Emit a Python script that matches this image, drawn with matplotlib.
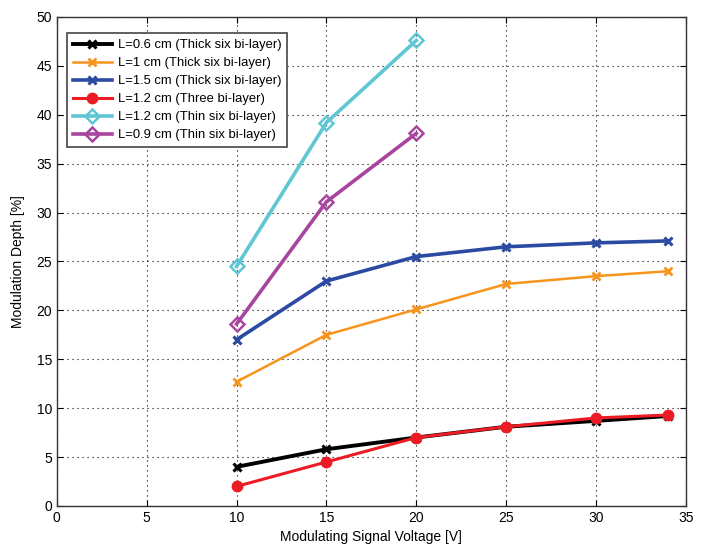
import matplotlib
matplotlib.use("Agg")
import matplotlib.pyplot as plt

plt.rcParams['font.family'] = ['Liberation Sans Narrow', 'Liberation Sans', 'DejaVu Sans']

voltage_full = [10, 15, 20, 25, 30, 34]
voltage_short = [10, 15, 20]

thick06 = [4.0, 5.8, 7.0, 8.1, 8.7, 9.2]
thick10 = [12.7, 17.5, 20.1, 22.7, 23.5, 24.0]
thick15 = [17.0, 23.0, 25.5, 26.5, 26.9, 27.1]
three12 = [2.0, 4.5, 7.0, 8.1, 9.0, 9.3]
thin12 = [24.5, 39.2, 47.6]
thin09 = [18.6, 31.1, 38.1]

labels = [
    "L=0.6 cm (Thick six bi-layer)",
    "L=1 cm (Thick six bi-layer)",
    "L=1.5 cm (Thick six bi-layer)",
    "L=1.2 cm (Three bi-layer)",
    "L=1.2 cm (Thin six bi-layer)",
    "L=0.9 cm (Thin six bi-layer)",
]

fig = plt.figure(figsize=(7.02, 5.47), dpi=100)
ax = fig.add_axes([0.081, 0.075, 0.896, 0.894])

ax.plot(voltage_full, thick06, color='black', lw=2.8, marker='x', ms=6, mew=2.2, label=labels[0])
ax.plot(voltage_full, thick10, color='#f7941d', lw=1.8, marker='x', ms=6, mew=2, label=labels[1])
ax.plot(voltage_full, thick15, color='#2b4ba3', lw=2.6, marker='x', ms=6, mew=2.2, label=labels[2])
ax.plot(voltage_full, three12, color='#ed1c24', lw=2.2, marker='o', ms=7.5, label=labels[3])
ax.plot(voltage_short, thin12, color='#5fc6d3', lw=2.6, marker='D', ms=7.5, mfc='none', mew=1.8, label=labels[4])
ax.plot(voltage_short, thin09, color='#a8459e', lw=2.6, marker='D', ms=7.5, mfc='none', mew=1.8, label=labels[5])

ax.set_xlim(0, 35)
ax.set_ylim(0, 50)
ax.set_xticks(range(0, 36, 5))
ax.set_yticks(range(0, 51, 5))
ax.grid(True, color='black', linestyle=(0, (1, 3.5)), linewidth=0.8)
ax.tick_params(direction='in', top=True, right=True, labelsize=10, length=4)
for s in ax.spines.values():
    s.set_linewidth(1.0)
    s.set_color('#333333')

ax.set_xlabel("Modulating Signal Voltage [V]", fontsize=10, labelpad=4)
ax.set_ylabel("Modulation Depth [%]", fontsize=10, labelpad=8)

leg = ax.legend(loc='upper left', bbox_to_anchor=(0.016, 0.967), borderaxespad=0,
                fontsize=9.4, fancybox=False, framealpha=1, edgecolor='#444444',
                handlelength=3.0, borderpad=0.45, labelspacing=0.45, handletextpad=0.45)
leg.get_frame().set_linewidth(1.2)

fig.savefig("out.png", dpi=100)
